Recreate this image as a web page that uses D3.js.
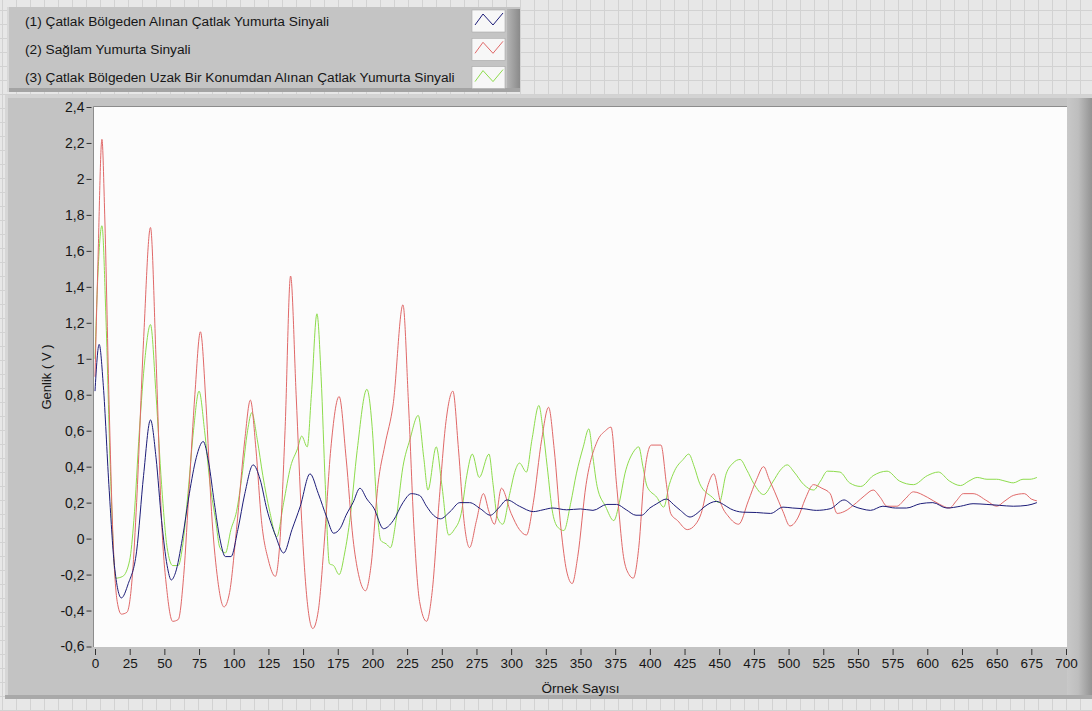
<!DOCTYPE html>
<html>
<head>
<meta charset="utf-8">
<script src="https://cdnjs.cloudflare.com/ajax/libs/d3/7.8.5/d3.min.js"></script>
<style>
    body { margin: 0; background: #e6e6e6; overflow: hidden; }
    svg text { font-family: "Liberation Sans", Arial, sans-serif; fill: #161616; }
</style>
</head>
<body>
<div class="vis-chart"></div>
<script>
// legend names
const seriesNames = [
    '(1) Çatlak Bölgeden Alınan Çatlak Yumurta Sinyali',
    '(2) Sağlam Yumurta Sinyali',
    '(3) Çatlak Bölgeden Uzak Bir Konumdan Alınan Çatlak Yumurta Sinyali'
]

// axis ticks
const xTicks = d3.range(0, 701, 25)
const yTicks = [-0.6, -0.4, -0.2, 0, 0.2, 0.4, 0.6, 0.8, 1, 1.2, 1.4, 1.6, 1.8, 2, 2.2, 2.4]

// (1) blue
const blueSamples = [0, 3, 6, 10, 14, 19, 24, 30, 35, 40, 44, 48, 52, 55, 58, 63, 68, 73, 78, 82, 86, 90, 94, 98, 103, 108, 114, 119, 124, 130, 136, 142, 148, 155, 161, 167, 172, 177, 181, 186, 191, 196, 201, 208, 215, 222, 228, 234, 239, 244, 249, 256, 263, 270, 278, 285, 291, 297, 306, 316, 323, 330, 340, 350, 359, 369, 376, 383, 390, 394, 400, 405, 412, 417, 422, 429, 434, 439, 448, 453, 458, 467, 477, 487, 496, 503, 511, 520, 530, 540, 547, 553, 559, 568, 577, 585, 595, 604, 614, 624, 633, 643, 652, 662, 672, 679]
const blueValues = [0.82, 1.08, 0.85, 0.3, -0.15, -0.33, -0.25, -0.07, 0.35, 0.66, 0.45, 0.1, -0.15, -0.23, -0.19, 0.0, 0.25, 0.45, 0.54, 0.42, 0.2, 0.0, -0.1, -0.1, 0.05, 0.25, 0.41, 0.33, 0.16, 0.02, -0.08, 0.05, 0.18, 0.36, 0.25, 0.12, 0.03, 0.06, 0.13, 0.2, 0.28, 0.22, 0.17, 0.055, 0.1, 0.2, 0.25, 0.24, 0.18, 0.13, 0.11, 0.15, 0.2, 0.2, 0.165, 0.13, 0.17, 0.215, 0.18, 0.15, 0.16, 0.17, 0.16, 0.165, 0.157, 0.19, 0.19, 0.16, 0.13, 0.13, 0.17, 0.194, 0.22, 0.19, 0.157, 0.12, 0.14, 0.175, 0.207, 0.19, 0.166, 0.147, 0.145, 0.14, 0.175, 0.17, 0.166, 0.157, 0.166, 0.215, 0.18, 0.165, 0.157, 0.18, 0.17, 0.17, 0.194, 0.2, 0.17, 0.18, 0.194, 0.19, 0.185, 0.18, 0.185, 0.2]

// (2) red
const redSamples = [0, 2, 5, 7, 10, 13, 16, 19, 23, 27, 30, 35, 40, 44, 48, 52, 56, 60, 64, 68, 72, 76, 80, 84, 88, 93, 97, 102, 108, 112, 116, 120, 125, 130, 133, 137, 141, 145, 149, 153, 157, 161, 165, 170, 176, 181, 186, 190, 195, 199, 204, 209, 215, 222, 226, 230, 234, 239, 243, 248, 253, 258, 262, 266, 270, 275, 280, 284, 288, 293, 300, 306, 311, 316, 322, 327, 331, 336, 340, 344, 348, 354, 362, 368, 372, 376, 381, 385, 388, 392, 396, 401, 408, 412, 415, 420, 427, 433, 437, 442, 446, 451, 457, 464, 471, 477, 482, 486, 490, 496, 501, 507, 512, 518, 524, 530, 535, 540, 549, 555, 561, 566, 571, 578, 584, 590, 600, 609, 616, 621, 626, 633, 643, 650, 656, 662, 670, 675, 679]
const redValues = [0.9, 1.5, 2.22, 1.8, 0.8, 0.0, -0.35, -0.42, -0.41, -0.2, 0.2, 1.1, 1.73, 1.0, 0.1, -0.3, -0.46, -0.45, -0.2, 0.3, 0.8, 1.15, 0.75, 0.15, -0.2, -0.38, -0.3, 0.05, 0.55, 0.77, 0.5, 0.1, -0.12, -0.21, -0.05, 0.6, 1.46, 0.8, 0.1, -0.35, -0.5, -0.4, -0.05, 0.5, 0.79, 0.45, 0.0, -0.2, -0.29, -0.15, 0.3, 0.52, 0.75, 1.3, 0.75, 0.05, -0.35, -0.46, -0.3, 0.2, 0.65, 0.82, 0.5, 0.1, -0.05, 0.1, 0.25, 0.15, 0.08, 0.28, 0.14, 0.05, 0.02, 0.2, 0.55, 0.73, 0.5, 0.05, -0.18, -0.25, -0.1, 0.3, 0.54, 0.6, 0.62, 0.3, -0.1, -0.2, -0.22, -0.05, 0.35, 0.52, 0.52, 0.3, 0.14, 0.1, 0.05, 0.08, 0.14, 0.3, 0.36, 0.2, 0.12, 0.08, 0.21, 0.33, 0.4, 0.33, 0.26, 0.15, 0.07, 0.12, 0.22, 0.3, 0.28, 0.25, 0.14, 0.15, 0.2, 0.24, 0.27, 0.23, 0.18, 0.18, 0.22, 0.26, 0.23, 0.19, 0.17, 0.21, 0.25, 0.25, 0.21, 0.18, 0.21, 0.24, 0.25, 0.22, 0.21]

// (3) green
const greenSamples = [0, 2, 5, 8, 11, 15, 20, 25, 28, 32, 36, 40, 44, 48, 52, 56, 60, 63, 67, 71, 75, 79, 83, 87, 90, 94, 98, 102, 106, 110, 113, 117, 121, 126, 131, 136, 141, 146, 149, 153, 156, 160, 163, 166, 169, 172, 176, 180, 184, 189, 196, 200, 203, 206, 210, 213, 217, 222, 227, 233, 237, 240, 246, 250, 255, 259, 264, 268, 272, 277, 284, 287, 290, 294, 299, 303, 306, 311, 315, 320, 323, 326, 330, 334, 338, 343, 347, 352, 356, 359, 362, 368, 374, 378, 382, 388, 392, 395, 398, 405, 410, 414, 418, 424, 428, 432, 436, 445, 450, 455, 460, 465, 470, 475, 482, 489, 494, 499, 504, 511, 518, 523, 528, 537, 544, 552, 561, 571, 580, 590, 600, 608, 616, 624, 630, 636, 643, 650, 656, 662, 669, 674, 679]
const greenValues = [1.0, 1.45, 1.74, 1.2, 0.4, -0.22, -0.21, -0.12, 0.1, 0.6, 1.0, 1.19, 0.8, 0.3, -0.05, -0.15, -0.15, -0.05, 0.25, 0.6, 0.82, 0.6, 0.3, 0.1, -0.05, -0.08, 0.05, 0.15, 0.35, 0.6, 0.7, 0.55, 0.35, 0.15, 0.01, 0.2, 0.4, 0.5, 0.57, 0.51, 0.8, 1.25, 0.9, 0.3, -0.14, -0.15, -0.2, -0.08, 0.12, 0.49, 0.83, 0.6, 0.2, -0.01, -0.03, -0.05, 0.1, 0.4, 0.55, 0.685, 0.45, 0.27, 0.51, 0.3, 0.02, 0.05, 0.14, 0.35, 0.47, 0.34, 0.47, 0.3, 0.12, 0.08, 0.25, 0.38, 0.42, 0.37, 0.55, 0.74, 0.6, 0.4, 0.14, 0.06, 0.045, 0.2, 0.36, 0.51, 0.61, 0.45, 0.29, 0.18, 0.1, 0.2, 0.36, 0.48, 0.51, 0.4, 0.29, 0.23, 0.175, 0.3, 0.38, 0.44, 0.47, 0.4, 0.305, 0.23, 0.2, 0.36, 0.42, 0.44, 0.38, 0.305, 0.245, 0.32, 0.38, 0.41, 0.37, 0.3, 0.27, 0.32, 0.375, 0.37, 0.31, 0.29, 0.35, 0.375, 0.32, 0.3, 0.35, 0.37, 0.32, 0.295, 0.32, 0.34, 0.33, 0.33, 0.32, 0.31, 0.33, 0.33, 0.34]

const lineColors = ['#1c1c78', '#e06868', '#8ddc4c']

const dimensions = {
    width: 1092,
    height: 711,
    plot: { left: 94, right: 1067, top: 107, bottom: 647 }
}

let visChart = d3.select('.vis-chart').append('svg')
    .attr('width', dimensions.width)
    .attr('height', dimensions.height)

let xScale = d3.scaleLinear().domain([0, 700]).range([95, 1066])
let yScale = d3.scaleLinear().domain([-0.6, 2.4]).range([646.5, 107])

drawBackground()
drawPanel()
drawAxis()
addAxisText('Örnek Sayısı', 'Genlik  ( V )')
drawPlot()
drawLegend()

/* front panel grid */
function drawBackground() {
    let defs = visChart.append('defs')
    let pat = defs.append('pattern')
        .attr('id', 'grid')
        .attr('width', 14).attr('height', 14)
        .attr('patternUnits', 'userSpaceOnUse')
        .attr('x', 2).attr('y', 10)
    pat.append('rect').attr('width', 14).attr('height', 14).attr('fill', '#e7e7e7')
    pat.append('path').attr('d', 'M0,0.5H14M0.5,0V14')
        .attr('stroke', '#d2d2d2').attr('stroke-width', 1).attr('fill', 'none')

    let rightShade = defs.append('linearGradient').attr('id', 'rightShade')
    rightShade.append('stop').attr('offset', '0%').attr('stop-color', '#c8c8c8')
    rightShade.append('stop').attr('offset', '45%').attr('stop-color', '#bebebe')
    rightShade.append('stop').attr('offset', '100%').attr('stop-color', '#939393')

    let legendShade = defs.append('linearGradient').attr('id', 'legendShade')
    legendShade.append('stop').attr('offset', '0%').attr('stop-color', '#b4b4b4')
    legendShade.append('stop').attr('offset', '100%').attr('stop-color', '#8a8a8a')

    defs.append('clipPath').attr('id', 'plotClip')
        .append('rect')
        .attr('x', dimensions.plot.left).attr('y', dimensions.plot.top)
        .attr('width', dimensions.plot.right - dimensions.plot.left)
        .attr('height', dimensions.plot.bottom - dimensions.plot.top)

    visChart.append('rect')
        .attr('width', dimensions.width).attr('height', dimensions.height)
        .attr('fill', 'url(#grid)')
}

/* grey graph panel */
function drawPanel() {
    visChart.append('rect')
        .attr('x', 5).attr('y', 95).attr('width', 1087).attr('height', 604)
        .attr('fill', '#c3c3c3')
    visChart.append('rect')
        .attr('x', 5).attr('y', 95).attr('width', 1087).attr('height', 3)
        .attr('fill', '#d3d3d3')
    visChart.append('rect')
        .attr('x', 5).attr('y', 95).attr('width', 3).attr('height', 604)
        .attr('fill', '#d6d6d6')
    visChart.append('rect')
        .attr('x', 1067).attr('y', 98).attr('width', 25).attr('height', 601)
        .attr('fill', 'url(#rightShade)')
    visChart.append('rect')
        .attr('x', 5).attr('y', 695).attr('width', 1087).attr('height', 4)
        .attr('fill', '#a9a9a9')

    visChart.append('rect')
        .attr('x', dimensions.plot.left).attr('y', dimensions.plot.top)
        .attr('width', dimensions.plot.right - dimensions.plot.left)
        .attr('height', dimensions.plot.bottom - dimensions.plot.top)
        .attr('fill', '#fcfcfc')
    visChart.append('path')
        .attr('d', 'M' + (dimensions.plot.left - 0.5) + ',' + dimensions.plot.bottom +
            'V' + (dimensions.plot.top - 0.5) + 'H' + dimensions.plot.right)
        .attr('stroke', '#8c8c8c').attr('fill', 'none')
}

/******** axes ***** */
function drawAxis() {
    let fmt = d => String(d).replace('.', ',')

    let xAxis = d3.axisBottom(xScale).tickValues(xTicks).tickSize(6).tickPadding(3)
    let yAxis = d3.axisLeft(yScale).tickValues(yTicks).tickSize(5).tickPadding(2).tickFormat(fmt)

    let gx = visChart.append('g')
        .attr('transform', 'translate(0,' + (dimensions.plot.bottom + 2) + ')')
        .call(xAxis)
    let gy = visChart.append('g')
        .attr('transform', 'translate(' + (dimensions.plot.left - 2.5) + ',0)')
        .call(yAxis)

    ;[gx, gy].forEach((g, i) => {
        g.select('.domain').remove()
        g.selectAll('line').attr('stroke', '#333')
        g.selectAll('text')
            .style('font-size', i === 0 ? '13.5px' : '14px')
            .style('font-family', '"Liberation Sans", Arial, sans-serif')
            .attr('fill', '#161616')
    })
}

function addAxisText(xAxisText, yAxisText) {
    visChart.append('text')
        .attr('text-anchor', 'middle')
        .attr('x', (dimensions.plot.left + dimensions.plot.right) / 2)
        .attr('y', 693)
        .style('font-size', '13.5px')
        .text(xAxisText)

    visChart.append('text')
        .attr('text-anchor', 'middle')
        .attr('transform', 'translate(51,' + ((dimensions.plot.top + dimensions.plot.bottom) / 2) + ')rotate(-90)')
        .style('font-size', '13px')
        .text(yAxisText)
}

/********* lines ************/
function drawPlot() {
    let line = d3.line()
        .x(d => xScale(d[0]))
        .y(d => yScale(d[1]))
        .curve(d3.curveMonotoneX)

    let series = [
        d3.zip(greenSamples, greenValues),
        d3.zip(redSamples, redValues),
        d3.zip(blueSamples, blueValues)
    ]
    let colors = [lineColors[2], lineColors[1], lineColors[0]]

    let g = visChart.append('g').attr('clip-path', 'url(#plotClip)')
    series.forEach((s, i) => {
        g.append('path')
            .attr('d', line(s))
            .attr('fill', 'none')
            .attr('stroke', colors[i])
            .attr('stroke-width', 1)
            .attr('stroke-linejoin', 'round')
    })
}

/* plot legend */
function drawLegend() {
    let lg = visChart.append('g')
    lg.append('rect')
        .attr('x', 7).attr('y', 7).attr('width', 513).attr('height', 85)
        .attr('fill', '#c4c4c4')
    lg.append('rect')
        .attr('x', 507).attr('y', 9).attr('width', 13).attr('height', 83)
        .attr('fill', 'url(#legendShade)')
    lg.append('rect')
        .attr('x', 7).attr('y', 88).attr('width', 513).attr('height', 4)
        .attr('fill', '#a4a4a4')
    lg.append('rect')
        .attr('x', 7).attr('y', 7).attr('width', 2).attr('height', 85)
        .attr('fill', '#d8d8d8')

    let icon = d3.line()
    seriesNames.forEach((name, i) => {
        let cy = 21 + i * 28.3
        lg.append('text')
            .attr('x', 25).attr('y', cy).attr('dy', '0.35em')
            .style('font-size', '13.7px')
            .text(name)
        lg.append('rect')
            .attr('x', 472).attr('y', cy - 11).attr('width', 33).attr('height', 22)
            .attr('fill', '#f7f7f7').attr('stroke', '#a8a8a8').attr('stroke-width', 0.6)
        lg.append('path')
            .attr('d', icon([[475, cy + 4], [483, cy - 7], [493, cy + 4], [503, cy - 8]]))
            .attr('fill', 'none')
            .attr('stroke', lineColors[i])
            .attr('stroke-width', 1)
    })
}
</script>
</body>
</html>
